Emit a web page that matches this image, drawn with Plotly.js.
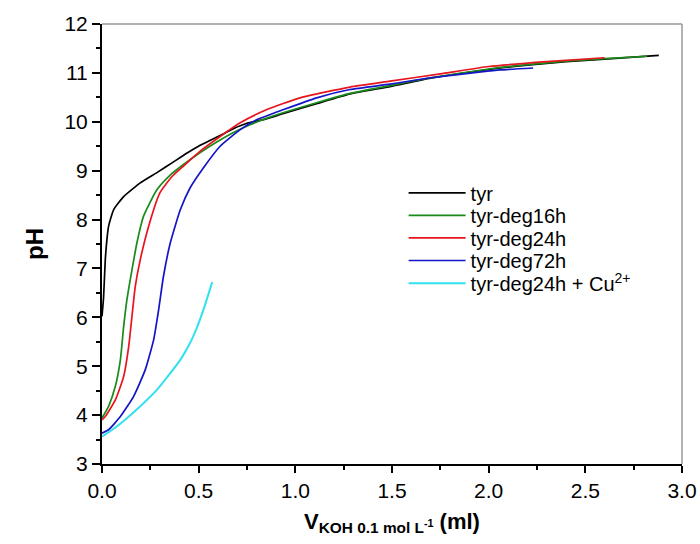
<!DOCTYPE html>
<html>
<head>
<meta charset="utf-8">
<script src="https://cdn.plot.ly/plotly-3.0.1.min.js"></script>
<style>html,body{margin:0;padding:0;background:#fff;}#chart{width:700px;height:544px;}</style>
</head>
<body>
<div id="chart"></div>
<script>
// Volume of KOH (ml) and pH for each titration curve
const tyrX = [0, 0.008, 0.017, 0.027, 0.034, 0.06, 0.112, 0.198, 0.284, 0.37, 0.44, 0.508, 0.611, 0.68, 0.75, 0.85, 0.94, 1.11, 1.283, 1.49, 1.7, 2.0, 2.2, 2.4, 2.6, 2.88];
const tyrY = [6.02, 6.4, 7.18, 7.65, 7.86, 8.2, 8.47, 8.75, 8.96, 9.18, 9.36, 9.52, 9.72, 9.86, 9.97, 10.06, 10.17, 10.37, 10.57, 10.72, 10.89, 11.07, 11.16, 11.23, 11.28, 11.36];

const deg16X = [0, 0.034, 0.069, 0.095, 0.112, 0.129, 0.155, 0.181, 0.215, 0.284, 0.35, 0.42, 0.508, 0.6, 0.68, 0.766, 0.85, 0.94, 1.11, 1.283, 1.49, 1.7, 2.0, 2.2, 2.4, 2.6, 2.82];
const deg16Y = [3.94, 4.18, 4.59, 5.13, 5.81, 6.36, 6.97, 7.53, 8.07, 8.61, 8.9, 9.12, 9.37, 9.6, 9.78, 9.94, 10.07, 10.19, 10.39, 10.58, 10.74, 10.9, 11.08, 11.17, 11.24, 11.29, 11.34];

const deg24X = [0, 0.017, 0.069, 0.112, 0.138, 0.155, 0.172, 0.198, 0.241, 0.3, 0.36, 0.42, 0.508, 0.611, 0.715, 0.853, 1.025, 1.283, 1.49, 1.75, 2.0, 2.3, 2.6];
const deg24Y = [3.9, 3.97, 4.31, 4.79, 5.4, 6.02, 6.63, 7.18, 7.86, 8.55, 8.87, 9.09, 9.4, 9.7, 9.98, 10.25, 10.49, 10.71, 10.83, 10.98, 11.13, 11.23, 11.31];

const deg72X = [0, 0.034, 0.095, 0.163, 0.224, 0.267, 0.293, 0.318, 0.353, 0.405, 0.456, 0.525, 0.611, 0.715, 0.8, 0.94, 1.11, 1.283, 1.49, 1.7, 1.96, 2.06, 2.23];
const deg72Y = [3.63, 3.7, 3.97, 4.38, 4.93, 5.54, 6.16, 6.84, 7.52, 8.2, 8.65, 9.06, 9.5, 9.84, 10.04, 10.25, 10.49, 10.66, 10.77, 10.9, 11.02, 11.06, 11.1];

const cuX = [0, 0.06, 0.112, 0.198, 0.285, 0.336, 0.405, 0.456, 0.49, 0.53, 0.57];
const cuY = [3.56, 3.72, 3.88, 4.18, 4.52, 4.77, 5.13, 5.48, 5.78, 6.22, 6.72];

const seriesNames = ["tyr", "tyr-deg16h", "tyr-deg24h", "tyr-deg72h", "tyr-deg24h + Cu<sup>2+</sup>"];
const seriesColors = ["#000000", "#1a8a1a", "#e8141e", "#1414c8", "#33e0f0"];
const xTickVals = [0, 0.5, 1.0, 1.5, 2.0, 2.5, 3.0];
const xTickText = ["0.0", "0.5", "1.0", "1.5", "2.0", "2.5", "3.0"];
const yTickVals = [3, 4, 5, 6, 7, 8, 9, 10, 11, 12];

const xs = [tyrX, deg16X, deg24X, deg72X, cuX];
const ys = [tyrY, deg16Y, deg24Y, deg72Y, cuY];
const legendIds = ['legend', 'legend2', 'legend3', 'legend4', 'legend5'];

const traces = xs.map((x, i) => ({
  x: x, y: ys[i], type: 'scatter', mode: 'lines', name: seriesNames[i], legend: legendIds[i],
  line: {color: seriesColors[i], width: i === 4 ? 2 : 1.7, shape: 'spline', smoothing: 0.5}
}));

const font = "Arial, 'Liberation Sans', sans-serif";
const legendRowY = [0.616, 0.565, 0.514, 0.4625, 0.411];
const layout = {
  width: 700, height: 544,
  margin: {l: 102, r: 18, t: 24, b: 80},
  paper_bgcolor: '#fff', plot_bgcolor: '#fff',
  font: {family: font, color: '#000', size: 20},
  showlegend: true,
  xaxis: {
    range: [0, 3.0], tickvals: xTickVals, ticktext: xTickText,
    showline: true, linecolor: '#000', linewidth: 2, zeroline: false, showgrid: false,
    ticks: 'outside', ticklen: 7, tickwidth: 2, tickcolor: '#000',
    tickfont: {size: 21, family: font},
    minor: {dtick: 0.25, tick0: 0, ticks: 'outside', ticklen: 4, tickwidth: 2, tickcolor: '#000', showgrid: false},
    title: {text: '<b>V<sub>KOH 0.1 mol L<sup>-1</sup></sub> (ml)</b>', font: {size: 22, family: font}, standoff: 12}
  },
  yaxis: {
    range: [3, 12], tickvals: yTickVals,
    showline: true, linecolor: '#000', linewidth: 2, zeroline: false, showgrid: false,
    ticks: 'outside', ticklen: 8, tickwidth: 2, tickcolor: '#000',
    tickfont: {size: 21, family: font},
    minor: {dtick: 0.5, tick0: 3, ticks: 'outside', ticklen: 4, tickwidth: 2, tickcolor: '#000', showgrid: false},
    title: {text: '<b>pH</b>', font: {size: 24, family: font}, standoff: 14}
  },
  shapes: [
    {type: 'line', xref: 'paper', yref: 'paper', x0: 0, x1: 1, y0: 1, y1: 1, line: {color: '#999', width: 1.5}},
    {type: 'line', xref: 'paper', yref: 'paper', x0: 1, x1: 1, y0: 0, y1: 1, line: {color: '#999', width: 1.5}}
  ]
};
legendIds.forEach((id, i) => {
  layout[id] = {x: 0.52, y: legendRowY[i], xanchor: 'left', yanchor: 'middle', bgcolor: 'rgba(0,0,0,0)',
                font: {size: 20, family: font}, itemwidth: 57};
});

Plotly.newPlot('chart', traces, layout, {staticPlot: true, displayModeBar: false});
</script>
</body>
</html>
